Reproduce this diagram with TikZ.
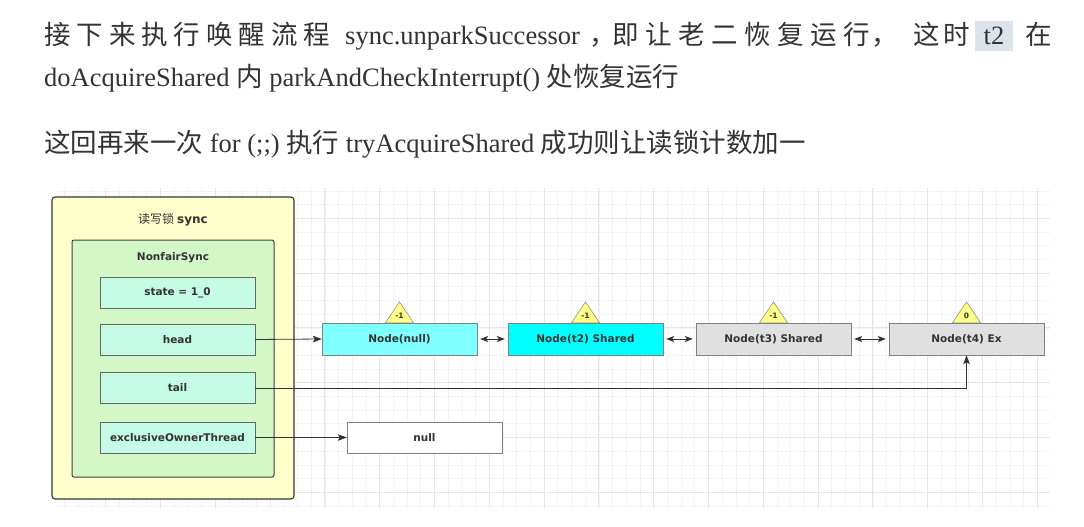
\documentclass[tikz,border=0pt]{standalone}
\usepackage{fontspec}
\setmainfont{Liberation Serif}
\newfontfamily\cjk{Noto Sans CJK SC}
\newfontfamily\dia{DejaVu Sans}
\usetikzlibrary{arrows.meta}
\definecolor{txt}{HTML}{333333}
\definecolor{gminorc}{HTML}{F3F3F3}
\definecolor{gmajorc}{HTML}{E6E6E6}
\definecolor{outerfill}{HTML}{FFFFCC}
\definecolor{innerfill}{HTML}{D4F7C8}
\definecolor{fieldfill}{HTML}{C4FCE6}
\definecolor{lightcyan}{HTML}{7FFFFF}
\definecolor{cyanfill}{HTML}{00FFFF}
\definecolor{grayfill}{HTML}{E0E0E0}
\definecolor{trifill}{HTML}{FFFF88}
\definecolor{hl}{HTML}{DDE3EA}
\newcommand\zh[1]{{\cjk #1}}
\tikzset{
  bigtext/.style={font=\fontsize{26.5}{30}\selectfont, text=txt, inner sep=0pt, anchor=base west},
  gminor/.style={draw=gminorc, line width=0.6pt},
  gmajor/.style={draw=gmajorc, line width=0.7pt},
  fieldbox/.style={draw=black!60, fill=fieldfill, minimum width=155pt, minimum height=31pt, inner sep=0pt, font=\dia\bfseries\fontsize{10.5}{12}\selectfont, text=txt},
  qnode/.style={draw=black!50, minimum width=155pt, minimum height=32pt, inner sep=0pt, font=\dia\bfseries\fontsize{10.5}{12}\selectfont, text=txt},
  tri/.style={draw=black!45, fill=trifill, line width=0.6pt},
  trilabel/.style={font=\dia\bfseries\fontsize{7.5}{9}\selectfont, text=txt, inner sep=0pt},
  arr/.style={draw=txt, line width=0.8pt, -{Stealth[length=9pt,width=6.5pt,inset=2pt]}},
  darr/.style={draw=txt, line width=0.8pt, {Stealth[length=8pt,width=6pt,inset=2pt]}-{Stealth[length=8pt,width=6pt,inset=2pt]}, shorten <=3pt, shorten >=3pt},
  lbl/.style={font=\dia\bfseries\fontsize{10.5}{12}\selectfont, text=txt, inner sep=0pt}
}
\begin{document}
\begin{tikzpicture}[x=1pt,y=-1pt]
\useasboundingbox (0,0) rectangle (1084,527);
\fill[white] (0,0) rectangle (1084,527);

% text lines
\node[bigtext] (l1a) at (44,45) {\zh{\hbox to 286pt{接\hfill 下\hfill 来\hfill 执\hfill 行\hfill 唤\hfill 醒\hfill 流\hfill 程}}};
\node[bigtext] (l1b) at (345,45) {sync.unparkSuccessor};
\node[bigtext] (l1c) at (589,45) {\zh{，}};
\node[bigtext] (l1d) at (612,45) {\zh{\hbox to 258pt{即\hfill 让\hfill 老\hfill 二\hfill 恢\hfill 复\hfill 运\hfill 行}}};
\node[bigtext] (l1e) at (871,45) {\zh{，}};
\node[bigtext] (l1f) at (913,45) {\zh{\hbox to 57pt{这\hfill 时}}};
\fill[hl] (975,21) rectangle (1013,51);
\node[bigtext, anchor=base] (l1g) at (994,45) {t2};
\node[bigtext] (l1h) at (1025,45) {\zh{在}};

\node[bigtext] (l2) at (44,86) {doAcquireShared \zh{内} parkAndCheckInterrupt() \zh{处恢复运行}};
\node[bigtext] (l3) at (44,152) {\zh{这回再来一次} for (;;) \zh{执行} tryAcquireShared \zh{成功则让读锁计数加一}};

% grid
\foreach \i in {1,...,72} \draw[gminor] ({50.8+13.7*\i},188) -- ({50.8+13.7*\i},508);
\foreach \j in {0,...,23} \draw[gminor] (58,{190.8+13.7*\j}) -- (1050,{190.8+13.7*\j});
\foreach \i in {1,...,18} \draw[gmajor] ({50.8+54.8*\i},188) -- ({50.8+54.8*\i},508);
\foreach \j in {0,...,5} \draw[gmajor] (58,{218.2+54.8*\j}) -- (1050,{218.2+54.8*\j});

% containers
\draw[draw=black!80, fill=outerfill, line width=1.1pt, rounded corners=3pt] (52,197) rectangle (294,499);
\node[lbl, font=\fontsize{12}{14}\selectfont] (title) at (173,220) {\zh{读写锁} \dia\bfseries sync};
\draw[draw=black!75, fill=innerfill, line width=1pt, rounded corners=2pt] (72,240) rectangle (274,477);
\node[lbl] (nfs) at (173,258) {NonfairSync};

% fields
\node[fieldbox] (state) at (177.5,293) {state = 1\_0};
\node[fieldbox] (head) at (177.5,339.5) {head};
\node[fieldbox] (tail) at (177.5,388) {tail};
\node[fieldbox] (eot) at (177.5,437.5) {exclusiveOwnerThread};

% queue nodes
\node[qnode, fill=lightcyan] (nnull) at (399.5,339) {Node(null)};
\node[qnode, fill=cyanfill] (nt2) at (585.5,339) {Node(t2) Shared};
\node[qnode, fill=grayfill] (nt3) at (773.5,339) {Node(t3) Shared};
\node[qnode, fill=grayfill] (nt4) at (966.5,339) {Node(t4) Ex};
\node[qnode, fill=white, minimum height=31pt] (nullbox) at (424.5,437.5) {null};

% triangles
\foreach \n/\v in {nnull/-1, nt2/-1, nt3/-1, nt4/0} {
  \draw[tri] ([xshift=-14pt]\n.north) -- ([yshift=21pt]\n.north) -- ([xshift=14pt]\n.north) -- cycle;
  \node[trilabel] at ([yshift=7pt]\n.north) {\v};
}

% connectors
\draw[arr] (head.east) -- (nnull.west);
\draw[arr] (tail.east) -- (tail.east -| nt4.south) -- (nt4.south);
\draw[arr] (eot.east) -- (nullbox.west);
\draw[darr] (nnull.east) -- (nt2.west);
\draw[darr] (nt2.east) -- (nt3.west);
\draw[darr] (nt3.east) -- (nt4.west);
\end{tikzpicture}
\end{document}
